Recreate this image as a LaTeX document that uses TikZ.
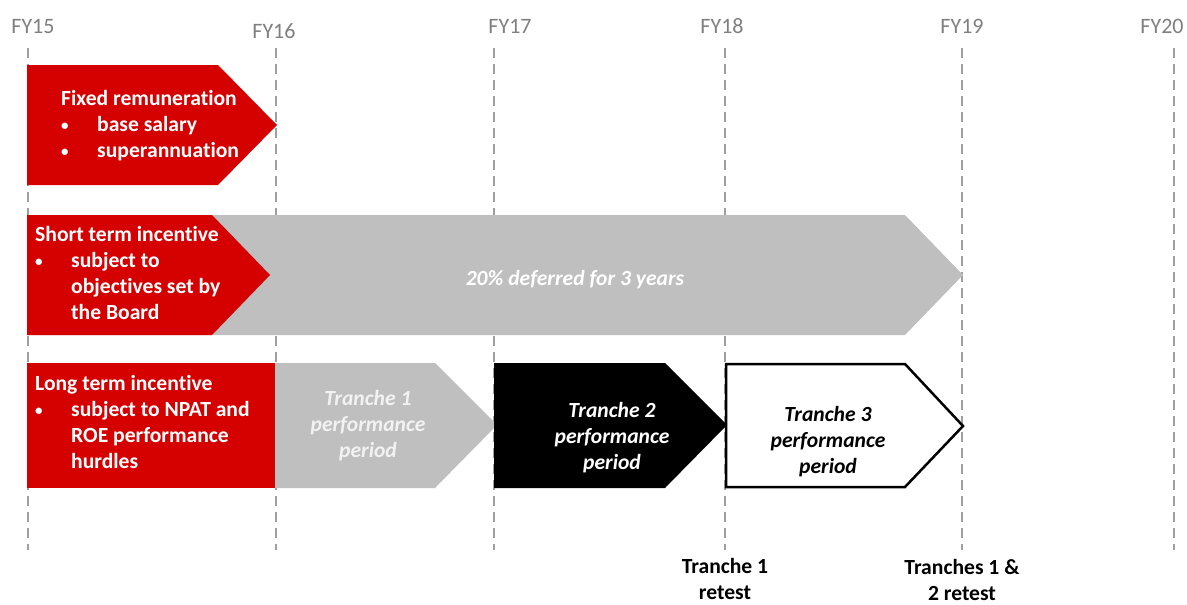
\documentclass[tikz,border=0pt]{standalone}
\usepackage{fontspec}
\setmainfont{Carlito}[Ligatures=NoCommon]

\definecolor{remred}{HTML}{D50000}
\definecolor{defgray}{HTML}{BFBFBF}
\definecolor{yeargray}{HTML}{7F7F7F}
\newcommand{\blt}{\makebox[36pt][l]{\raisebox{1pt}{\fontsize{15}{26}\selectfont\textbullet}}}

\begin{document}
\begin{tikzpicture}[x=1pt,y=-1pt,
    every node/.style={inner sep=0pt,font=\fontsize{21.6}{26}\selectfont\bfseries},
    yearlbl/.style={anchor=base,text=yeargray,font=\fontsize{22}{26}\selectfont},
    yearline/.style={draw=yeargray!75,line width=1.2pt,dash pattern=on 10pt off 6pt},
    boxtext/.style={align=left,anchor=base west,text=white},
    tranche/.style={align=center,anchor=base,font=\fontsize{21.6}{26}\selectfont\bfseries\itshape}]

    \useasboundingbox (0,0) rectangle (1187,605);

    % years and dashed lines
    \foreach \yr/\x/\lx/\ly in {15/28/33/33, 16/276/274/38, 17/494/510/33, 18/725/722/33, 19/962/962/33, 20/1174/1162/33} {
        \node[yearlbl] (fy\yr) at (\lx,\ly) {FY\yr};
        \coordinate (top\yr) at (\x,48);
        \coordinate (bot\yr) at (\x,550);
        \draw[yearline] (top\yr) -- (bot\yr);
    }

    % fixed remuneration (base anchor = last line)
    \fill[remred] (27,65) -- (218,65) -- (277,125) -- (218,185) -- (27,185) -- cycle;
    \node[boxtext] (fixed) at (61,157) {Fixed remuneration\\\blt base salary\\\blt superannuation};

    % short term incentive
    \fill[defgray] (27,215) -- (905,215) -- (963,275) -- (905,335) -- (27,335) -- cycle;
    \fill[remred] (27,215) -- (212,215) -- (270,275) -- (212,335) -- (27,335) -- cycle;
    \node[boxtext] (sti) at (35,319) {Short term incentive\\\blt subject to\\\hspace*{36pt}objectives set by\\\hspace*{36pt}the Board};
    \node[tranche,text=white] (deferred) at (575,285) {20\% deferred for 3 years};

    % long term incentive
    \fill[remred] (27,363) rectangle (275,488);
    \fill[defgray] (275,363) -- (435,363) -- (497,425) -- (435,488) -- (275,488) -- cycle;
    \fill[black] (494,363) -- (665,363) -- (727,425) -- (665,488) -- (494,488) -- cycle;
    \draw[black,line width=2.5pt,fill=white] (726,364) -- (905,364) -- (963,426) -- (905,487) -- (726,487) -- cycle;
    \node[boxtext] (lti) at (35,468) {Long term incentive\\\blt subject to NPAT and\\\hspace*{36pt}ROE performance\\\hspace*{36pt}hurdles};
    \node[tranche,text=black!5] (tr1) at (368,457) {Tranche 1\\performance\\period};
    \node[tranche,text=white] (tr2) at (612,469) {Tranche 2\\performance\\period};
    \node[tranche,text=black] (tr3) at (828,473) {Tranche 3\\performance\\period};

    % retests
    \node[align=center,anchor=base] (retest1) at (725,599) {Tranche 1\\retest};
    \node[align=center,anchor=base] (retest2) at (962,600) {Tranches 1 \&\\2 retest};
\end{tikzpicture}
\end{document}
